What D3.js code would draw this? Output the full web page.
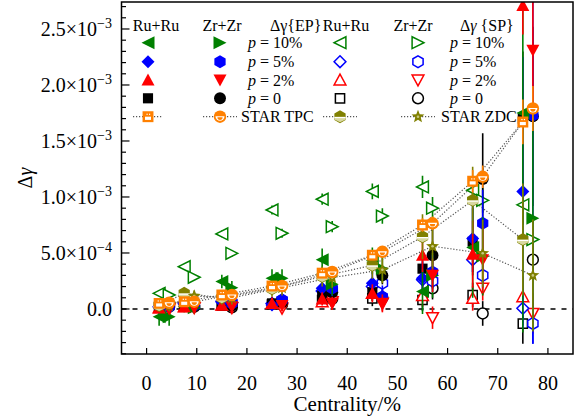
<!DOCTYPE html>
<html><head><meta charset="utf-8">
<script src="https://cdn.jsdelivr.net/npm/d3@7"></script>
<style>body{margin:0;background:#fff}svg text{font-family:"Liberation Serif","DejaVu Serif",serif;fill:#000}</style>
</head><body><svg id="c" width="582" height="417" font-family="Liberation Serif, DejaVu Serif, serif"></svg>
<script>
// ---- data (values in units of 1e-4) ----
const UNIT = 1e-4;
const centRu = [2.5, 7.5, 15, 25, 35, 45, 55, 65, 75];
const centZr = [4.5, 9.5, 17, 27, 37, 47, 57, 67, 77];

// Δγ{EP}, filled symbols
const ep10Ru = [-0.7, 0.2, 2.45, 2.75, 4.4, 4.3, 1.55, 5.5, 17.5];
const ep10RuErr = [0.8, 0.5, 0.6, 0.8, 1.0, 1.2, 2.0, 4.5, 19.6];
const ep10Zr = [-0.7, 0.1, 1.9, 2.75, 2.2, 3.6, 3.0, 4.7, 8.1];
const ep10ZrErr = [0.8, 0.5, 0.6, 0.8, 1.0, 1.2, 2.0, 3.5, 10.0];
const ep5Ru = [0.1, 0.4, 0.6, 0.36, 1.85, 2.3, 2.75, 6.3, 10.5];
const ep5RuErr = [0.3, 0.3, 0.4, 0.5, 0.7, 1.0, 1.5, 3.0, 12.0];
const ep5Zr = [0.2, 0.3, 0.5, 0.8, 1.85, 1.1, 3.3, 7.65, 17.3];
const ep5ZrErr = [0.3, 0.3, 0.4, 0.5, 0.7, 1.0, 1.5, 3.0, 20.4];
const ep2Ru = [0.1, 0.2, 0.36, 0.5, 0.9, 1.4, 4.8, 4.9, 27.1];
const ep2RuErr = [0.3, 0.3, 0.3, 0.5, 0.6, 0.8, 1.5, 3.0, 2.6];
const ep2Zr = [0.0, 0.1, 0.2, 0.3, 0.5, 0.5, 3.0, 4.4, 23.1];
const ep2ZrErr = [0.3, 0.3, 0.3, 0.5, 0.6, 0.8, 1.5, 3.0, 4.7];
const ep0Ru = [0.2, 0.3, 0.4, 0.5, 1.2, 1.5, 3.6, 6.0, 17.0];
const ep0RuErr = [0.3, 0.3, 0.3, 0.5, 0.6, 0.8, 1.5, 3.0, 6.0];
const ep0Zr = [0.3, 0.3, 0.3, 0.6, 1.5, 3.0, 4.8, 11.6, 17.2];
const ep0ZrErr = [0.3, 0.3, 0.3, 0.5, 0.6, 0.8, 2.9, 4.1, 8.0];

// Δγ{SP}, open symbols
const sp10Ru = [1.4, 3.78, 6.7, 8.84, 9.8, 10.5, 10.9, 10.6, 9.3];
const sp10Zr = [1.25, 2.83, 4.97, 6.76, 7.35, 8.3, 9.0, 9.7, 6.2];
const sp5Ru = [0.2, 0.5, 0.7, 0.5, 1.6, 2.0, 2.6, 4.4, 0.06];
const sp5Zr = [0.3, 0.4, 0.6, 0.8, 1.7, 2.3, 2.5, 3.0, -1.3];
const sp2Ru = [0.1, 0.2, 0.36, 0.5, 0.65, 1.4, 1.2, 0.95, 1.1];
const sp2Zr = [0.0, 0.1, 0.1, 0.06, 0.65, 0.5, -0.78, 1.85, -0.4];
const sp0Ru = [0.2, 0.3, 0.3, 0.4, 0.8, 0.95, 0.8, 1.25, -1.3];
const sp0Zr = [0.2, 0.2, 0.15, 0.4, 0.9, 1.0, 1.85, -0.4, 4.4];
const spErr = [0.2, 0.2, 0.3, 0.4, 0.5, 0.7, 1.0, 1.1, 1.8];

// STAR
const tpcRu = [0.5, 0.65, 1.25, 2.05, 3.2, 4.8, 7.5, 11.4, 16.7];
const tpcZr = [0.56, 0.65, 1.25, 2.05, 3.3, 5.1, 7.65, 11.8, 17.9];
const tpcErr = [0.2, 0.2, 0.2, 0.2, 0.3, 0.4, 0.6, 1.0, 2.0];
const zdcRu = [0.3, 1.4, 1.0, 1.8, 2.9, 3.9, 6.45, 9.7, 6.2];
const zdcZr = [0.3, 1.16, 1.0, 1.9, 2.8, 3.5, 5.6, 4.97, 3.0];
const zdcErr = [0.5, 0.5, 0.6, 0.7, 0.9, 1.2, 2.0, 3.0, 5.0];

// ticks & labels
const xTicks = [0, 10, 20, 30, 40, 50, 60, 70, 80];
const yMajor = [0, 5e-4, 1e-3, 1.5e-3, 2e-3, 2.5e-3];
const yLabels = [["0.0", null], ["5.0", "−4"], ["1.0", "−3"], ["1.5", "−3"], ["2.0", "−3"], ["2.5", "−3"]];
const pLabels = ["10%", "5%", "2%", "0"];

// ---- drawing ----
const GREEN = "#008000", BLUE = "#0000ff", RED = "#ff0000", BLACK = "#000", ORANGE = "#ff8000", OLIVE = "#808000";
const FONT = "Liberation Serif, DejaVu Serif, serif";
const svg = d3.select("#c");
const L = 121.5, R = 573, T = 2, B = 354;
const x = d3.scaleLinear().domain([-5, 85]).range([L, R]);
const y = d3.scaleLinear().domain([-4.02e-4, 2.741e-3]).range([B, T]);

svg.append("defs").append("clipPath").attr("id", "clip")
  .append("rect").attr("x", L).attr("y", T).attr("width", R - L).attr("height", B - T);

function shapePath(s, r) {
  switch (s) {
    case "left": return `M${-r},0L${r},${-r}L${r},${r}Z`;
    case "right": return `M${r},0L${-r},${-r}L${-r},${r}Z`;
    case "up": return `M0,${-r}L${r},${r * 0.85}L${-r},${r * 0.85}Z`;
    case "down": return `M0,${r}L${r},${-r * 0.85}L${-r},${-r * 0.85}Z`;
    case "diamond": return `M0,${-r}L${r},0L0,${r}L${-r},0Z`;
    case "square": { const h = r * 0.78; return `M${-h},${-h}L${h},${-h}L${h},${h}L${-h},${h}Z`; }
    case "circle": { const c = r * 0.92; return `M${-c},0A${c},${c} 0 1 0 ${c},0A${c},${c} 0 1 0 ${-c},0Z`; }
    case "hex": { let p = ""; for (let i = 0; i < 6; i++) { const a = (-90 + 60 * i) * Math.PI / 180; p += (i ? "L" : "M") + (r * Math.cos(a)).toFixed(2) + "," + (r * Math.sin(a)).toFixed(2); } return p + "Z"; }
    case "star": { let p = ""; for (let i = 0; i < 10; i++) { const rr = i % 2 ? r * 0.45 : r * 1.05; const a = (-90 + 36 * i) * Math.PI / 180; p += (i ? "L" : "M") + (rr * Math.cos(a)).toFixed(2) + "," + (rr * Math.sin(a)).toFixed(2); } return p + "Z"; }
  }
}
const MR = 6.5;
function drawMarker(g, cx, cy, spec) {
  const m = g.append("g").attr("transform", `translate(${cx},${cy})`);
  if (spec.kind === "tpcSq") {
    m.append("path").attr("d", shapePath("square", MR + 0.5)).attr("fill", ORANGE);
    m.append("rect").attr("x", -3).attr("y", 0).attr("width", 6).attr("height", 3.2).attr("fill", "#fff");
    m.append("rect").attr("x", -1.5).attr("y", -3).attr("width", 1.2).attr("height", 1.2).attr("fill", "#fff");
    m.append("rect").attr("x", 1).attr("y", -3).attr("width", 1.2).attr("height", 1.2).attr("fill", "#fff");
  } else if (spec.kind === "tpcCi") {
    m.append("path").attr("d", shapePath("circle", MR + 0.3)).attr("fill", ORANGE);
    m.append("path").attr("d", "M-4.5,-0.5A4.5,4.5 0 0 0 4.5,-0.5Z").attr("fill", "#fff");
    m.append("path").attr("d", "M-2.6,0.6A2.6,2.6 0 0 0 2.6,0.6Z").attr("fill", ORANGE);
  } else if (spec.kind === "zdcHex") {
    m.append("path").attr("d", shapePath("hex", MR)).attr("fill", OLIVE);
    m.append("path").attr("d", "M-5.6,0.2L5.6,0.2L5.6,2.8L0,5.5L-5.6,2.8Z").attr("fill", "#d8d8a0");
    m.append("line").attr("x1", -5.6).attr("x2", 5.6).attr("y1", 0.8).attr("y2", 0.8).attr("stroke", "#fff").attr("stroke-width", 1.3);
  } else if (spec.kind === "zdcStar") {
    m.append("path").attr("d", shapePath("star", MR)).attr("fill", OLIVE);
    m.append("circle").attr("r", 1.3).attr("fill", "#c8c880");
  } else if (spec.filled) {
    m.append("path").attr("d", shapePath(spec.shape, MR)).attr("fill", spec.color);
  } else {
    m.append("path").attr("d", shapePath(spec.shape, MR - 0.6)).attr("fill", "#fff")
      .attr("stroke", spec.color).attr("stroke-width", 1.5);
  }
}

const series = [
  { cent: centRu, vals: sp0Ru, errs: spErr, shape: "square", color: BLACK, filled: false },
  { cent: centZr, vals: sp0Zr, errs: spErr, shape: "circle", color: BLACK, filled: false },
  { cent: centRu, vals: sp2Ru, errs: spErr, shape: "up", color: RED, filled: false },
  { cent: centZr, vals: sp2Zr, errs: spErr, shape: "down", color: RED, filled: false },
  { cent: centRu, vals: sp5Ru, errs: spErr, shape: "diamond", color: BLUE, filled: false },
  { cent: centZr, vals: sp5Zr, errs: spErr, shape: "hex", color: BLUE, filled: false },
  { cent: centRu, vals: sp10Ru, errs: spErr, shape: "left", color: GREEN, filled: false },
  { cent: centZr, vals: sp10Zr, errs: spErr, shape: "right", color: GREEN, filled: false },
  { cent: centRu, vals: ep0Ru, errs: ep0RuErr, shape: "square", color: BLACK, filled: true },
  { cent: centZr, vals: ep0Zr, errs: ep0ZrErr, shape: "circle", color: BLACK, filled: true },
  { cent: centRu, vals: ep5Ru, errs: ep5RuErr, shape: "diamond", color: BLUE, filled: true },
  { cent: centZr, vals: ep5Zr, errs: ep5ZrErr, shape: "hex", color: BLUE, filled: true },
  { cent: centRu, vals: ep10Ru, errs: ep10RuErr, shape: "left", color: GREEN, filled: true },
  { cent: centZr, vals: ep10Zr, errs: ep10ZrErr, shape: "right", color: GREEN, filled: true },
  { cent: centRu, vals: ep2Ru, errs: ep2RuErr, shape: "up", color: RED, filled: true },
  { cent: centZr, vals: ep2Zr, errs: ep2ZrErr, shape: "down", color: RED, filled: true },
  { cent: centRu, vals: zdcRu, errs: zdcErr, kind: "zdcHex", color: OLIVE, line: true },
  { cent: centZr, vals: zdcZr, errs: zdcErr, kind: "zdcStar", color: OLIVE, line: true },
  { cent: centRu, vals: tpcRu, errs: tpcErr, kind: "tpcSq", color: ORANGE, line: true },
  { cent: centZr, vals: tpcZr, errs: tpcErr, kind: "tpcCi", color: ORANGE, line: true },
];

const plot = svg.append("g").attr("clip-path", "url(#clip)");
plot.append("line").attr("x1", L).attr("x2", R).attr("y1", y(0)).attr("y2", y(0))
  .attr("stroke", "#000").attr("stroke-width", 1.4).attr("stroke-dasharray", "5,6");
const lineGen = d3.line().x(d => x(d[0])).y(d => y(d[1] * UNIT));
series.filter(s => s.line).forEach(s => {
  plot.append("path").attr("d", lineGen(s.cent.map((c, i) => [c, s.vals[i]])))
    .attr("fill", "none").attr("stroke", "#555").attr("stroke-width", 1.2).attr("stroke-dasharray", "1.2,1.8");
});
series.forEach(s => {
  const g = plot.append("g");
  s.cent.forEach((c, i) => {
    const v = s.vals[i], e = s.errs[i];
    g.append("line").attr("x1", x(c)).attr("x2", x(c))
      .attr("y1", y((v - e) * UNIT)).attr("y2", y((v + e) * UNIT))
      .attr("stroke", s.color).attr("stroke-width", 1.6);
  });
  s.cent.forEach((c, i) => drawMarker(g, x(c), y(s.vals[i] * UNIT), s));
});

svg.append("rect").attr("x", L).attr("y", T).attr("width", R - L).attr("height", B - T)
  .attr("fill", "none").attr("stroke", "#000").attr("stroke-width", 1.5);
d3.range(-4, 28).forEach(k => {
  const v = k * 1e-4, major = k % 5 === 0;
  svg.append("line").attr("x1", L).attr("x2", L + (major ? 8 : 4.5)).attr("y1", y(v)).attr("y2", y(v))
    .attr("stroke", "#000").attr("stroke-width", 1.2);
});
yMajor.forEach((v, i) => {
  const t = svg.append("text").attr("x", 112).attr("y", y(v) + 7).attr("text-anchor", "end")
    .attr("font-family", FONT).attr("font-size", 20);
  t.append("tspan").text(yLabels[i][0] + (yLabels[i][1] ? "×10" : ""));
  if (yLabels[i][1]) t.append("tspan").attr("font-size", 14).attr("dy", -8).text(yLabels[i][1]);
});
xTicks.forEach(v => {
  svg.append("line").attr("x1", x(v)).attr("x2", x(v)).attr("y1", B).attr("y2", B - 6)
    .attr("stroke", "#000").attr("stroke-width", 1.2);
  svg.append("text").attr("x", x(v)).attr("y", 390).attr("text-anchor", "middle")
    .attr("font-family", FONT).attr("font-size", 20).text(v);
});
svg.append("text").attr("x", (L + R) / 2).attr("y", 411).attr("text-anchor", "middle")
  .attr("font-family", FONT).attr("font-size", 21).text("Centrality/%");
const yl = svg.append("text").attr("transform", "translate(32,178) rotate(-90)").attr("text-anchor", "middle")
  .attr("font-family", FONT).attr("font-size", 20);
yl.append("tspan").text("Δ");
yl.append("tspan").attr("font-style", "italic").text("γ");

const LF = 16;
const leg = svg.append("g").attr("font-family", FONT);
const hdr = (tx, xx, anchor) => leg.append("text").attr("x", xx).attr("y", 30.5).attr("text-anchor", anchor)
  .attr("font-family", FONT).attr("font-size", LF).text(tx);
hdr("Ru+Ru", 156, "middle"); hdr("Zr+Zr", 222, "middle");
hdr("Ru+Ru", 346, "middle"); hdr("Zr+Zr", 413, "middle");
hdr("Δγ{EP}", 270, "start");
const sph = leg.append("text").attr("x", 460).attr("y", 30.5).attr("font-family", FONT).attr("font-size", LF);
sph.append("tspan").text("Δ"); sph.append("tspan").attr("font-style", "italic").text("γ"); sph.append("tspan").text(" {SP}");
const rowsY = [42.7, 61.7, 80, 98.3];
const legPairs = [["left", "right"], ["diamond", "hex"], ["up", "down"], ["square", "circle"]];
const legColors = [GREEN, BLUE, RED, BLACK];
rowsY.forEach((ry, i) => {
  drawMarker(leg, 148, ry, { shape: legPairs[i][0], color: legColors[i], filled: true });
  drawMarker(leg, 220, ry, { shape: legPairs[i][1], color: legColors[i], filled: true });
  drawMarker(leg, 340, ry, { shape: legPairs[i][0], color: legColors[i], filled: false });
  drawMarker(leg, 418, ry, { shape: legPairs[i][1], color: legColors[i], filled: false });
  [248, 450].forEach(tx => {
    const t = leg.append("text").attr("x", tx).attr("y", ry + 5.5).attr("font-family", FONT).attr("font-size", LF);
    t.append("tspan").attr("font-style", "italic").text("p");
    t.append("tspan").text(" = " + pLabels[i]);
  });
});
const sy = 116.7;
[[133, 163, 148, "tpcSq"], [203, 237, 220, "tpcCi"], [323, 357, 340, "zdcHex"], [401, 435, 418, "zdcStar"]].forEach(d => {
  leg.append("line").attr("x1", d[0]).attr("x2", d[1]).attr("y1", sy).attr("y2", sy)
    .attr("stroke", "#555").attr("stroke-width", 1.2).attr("stroke-dasharray", "1.2,1.8");
  drawMarker(leg, d[2], sy, { kind: d[3] });
});
leg.append("text").attr("x", 241).attr("y", sy + 5.5).attr("font-family", FONT).attr("font-size", LF).text("STAR TPC");
leg.append("text").attr("x", 441).attr("y", sy + 5.5).attr("font-family", FONT).attr("font-size", LF).text("STAR ZDC");
</script></body></html>
